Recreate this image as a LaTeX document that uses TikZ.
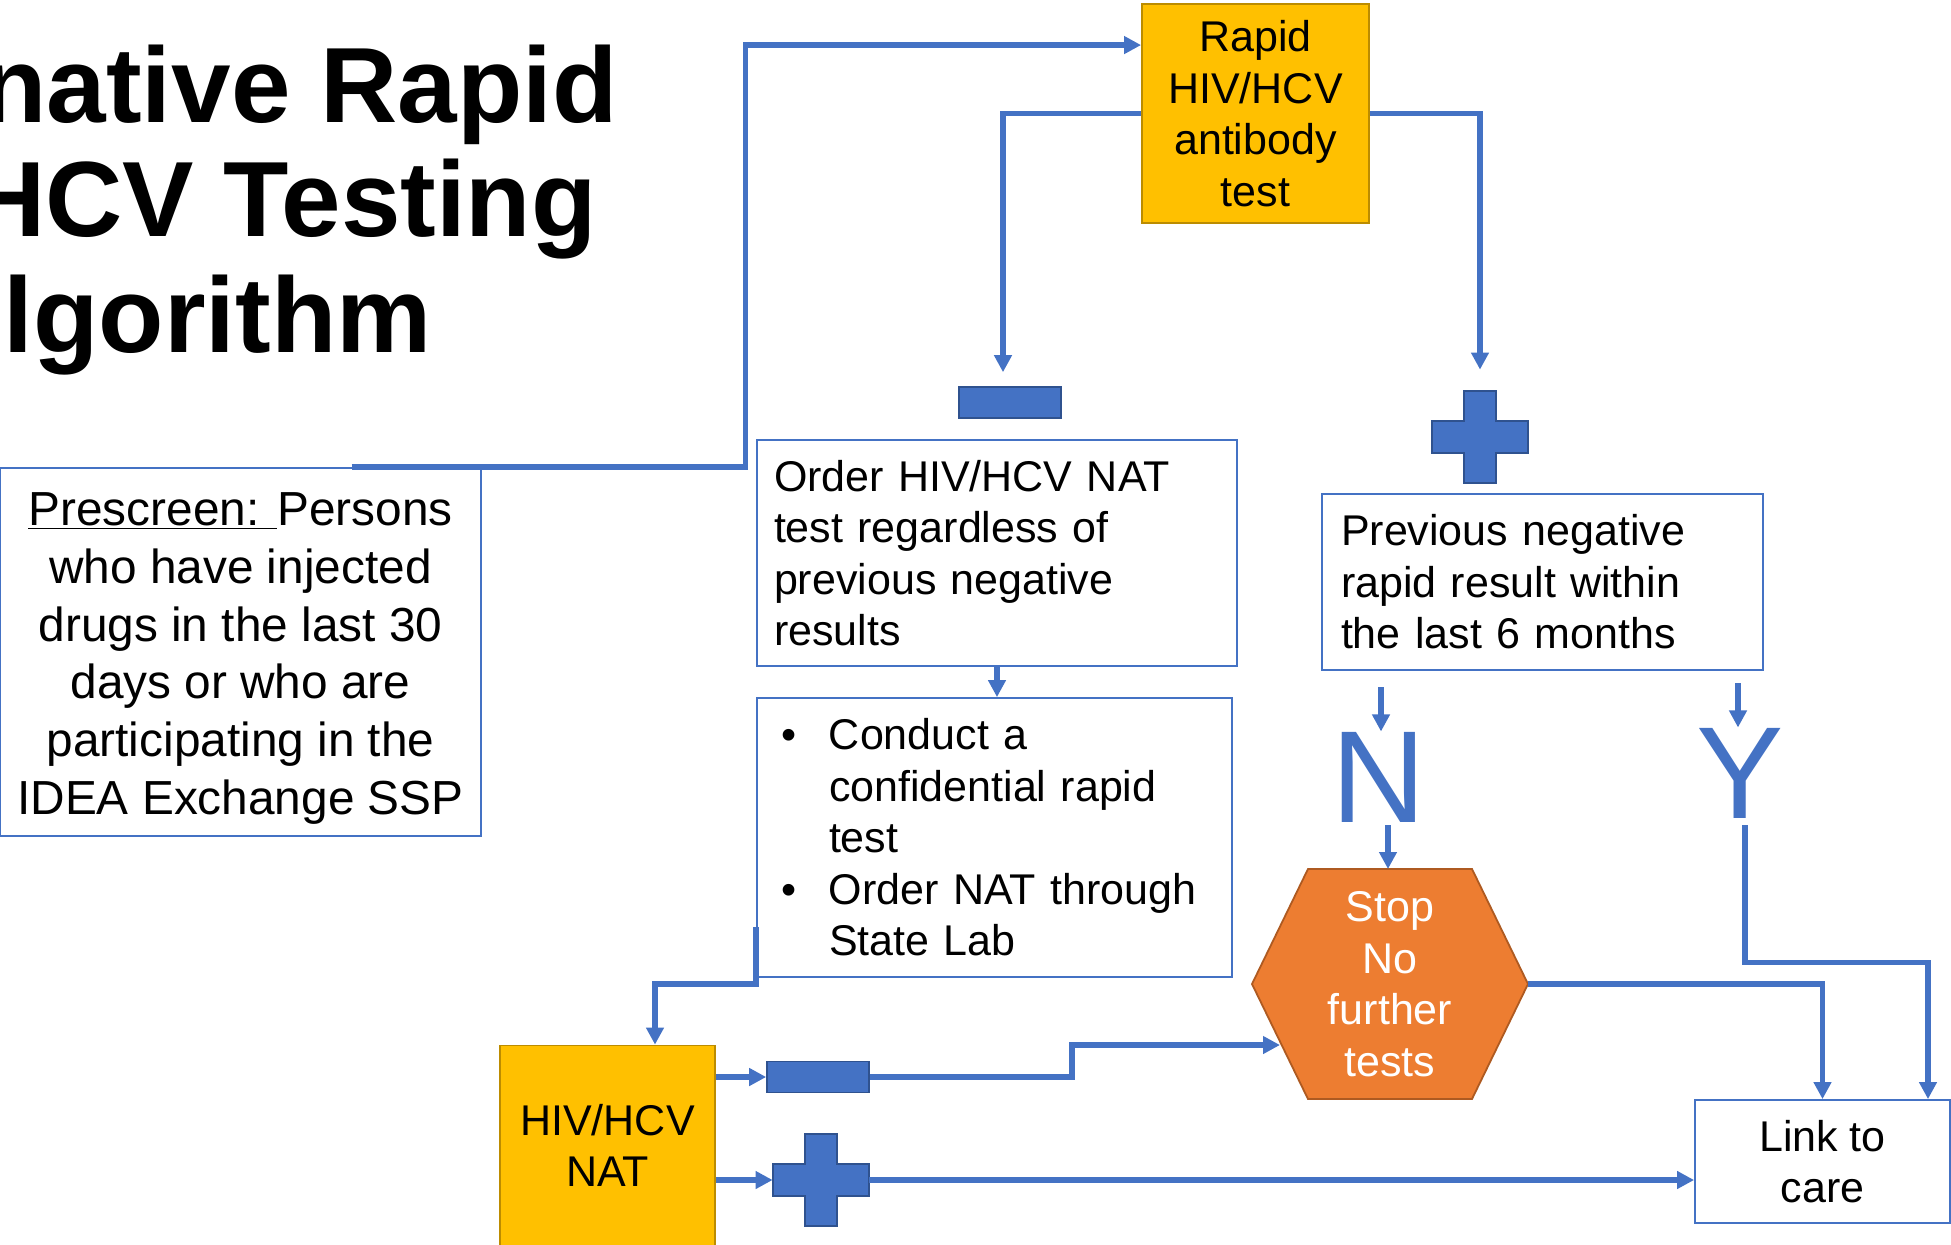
\documentclass[tikz,border=0pt]{standalone}
\usepackage{fontspec}
\setmainfont{Liberation Sans}
\usetikzlibrary{arrows.meta,calc}

\definecolor{lineblue}{HTML}{4472C4}
\definecolor{signedge}{HTML}{2F528F}
\definecolor{testgold}{HTML}{FFC000}
\definecolor{goldedge}{HTML}{BC8C00}
\definecolor{stoporange}{HTML}{ED7D31}
\definecolor{stopedge}{HTML}{AE5A21}

\tikzset{
  flow/.style={draw=lineblue, line width=2.9pt, -{Triangle[length=8.5pt,width=8.5pt]}},
  pointer/.style={draw=lineblue, line width=2.7pt, -{Triangle[length=8.5pt,width=8.5pt]}},
  textbox/.style={draw=lineblue, line width=0.9pt, fill=white, inner sep=0pt,
                  font=\fontsize{21.5}{25.75}\selectfont},
  testbox/.style={draw=goldedge, line width=0.9pt, fill=testgold, align=center,
                  inner sep=0pt, font=\fontsize{21.5}{25.75}\selectfont},
  minusbox/.style={draw=signedge, line width=0.8pt, fill=lineblue,
                   minimum width=51pt, minimum height=15.5pt, inner sep=0pt},
  plusbox/.style={minimum width=48pt, minimum height=46pt, inner sep=0pt},
  signmark/.style={draw=signedge, line width=0.8pt, fill=lineblue},
  bigletter/.style={text=lineblue, inner sep=0pt, anchor=base,
                    font=\fontsize{65.5}{70}\selectfont},
  heading/.style={inner sep=0pt, anchor=base east,
                  font=\bfseries\fontsize{53.5}{56}\selectfont},
}

% plus mark round a plusbox node
\newcommand{\plussign}[1]{%
  \draw[signmark] (#1.center) ++(-16,-46) -- ++(32,0) -- ++(0,30) -- ++(32,0)
    -- ++(0,32) -- ++(-32,0) -- ++(0,30) -- ++(-32,0) -- ++(0,-30)
    -- ++(-32,0) -- ++(0,-32) -- ++(32,0) -- cycle;}

\begin{document}
\begin{tikzpicture}[x=0.5pt, y=-0.5pt]
  \useasboundingbox (0,0) rectangle (1951,1244);
  \clip (0,0) rectangle (1951,1244);

  % title
  \node[heading] (title1) at (618,122) {native Rapid};
  \node[heading] (title2) at (597,236) {HCV Testing};
  \node[heading] (title3) at (432,352) {lgorithm};

  % boxes
  \node[textbox, align=center, minimum width=240.5pt, minimum height=184pt,
        font=\fontsize{23.9}{28.9}\selectfont] (prescreen) at (240.5,652)
    {\rule{0pt}{23pt}\underline{Prescreen: }Persons\\who have injected\\drugs in the last 30\\days or who are\\participating in the\\IDEA Exchange SSP};
  \node[testbox, minimum width=113.5pt, minimum height=109.5pt] (rapid) at (1255.5,113.5)
    {Rapid\\HIV/HCV\\antibody\\test};
  \node[minusbox] (neg1) at (1010,402.5) {};
  \node[plusbox] (pos1) at (1480,437) {};
  \plussign{pos1}
  \node[textbox, align=left, text width=223pt, inner xsep=8.5pt, minimum height=113pt]
    (order) at (997,553)
    {Order HIV/HCV NAT\\test regardless of\\previous negative\\results};
  \node[textbox, align=left, text width=213.5pt, inner xsep=12pt, minimum height=139.5pt]
    (conduct) at (994.5,837.5)
    {\makebox[24pt][l]{\textbullet}Conduct a\\
     \hspace*{24pt}confidential rapid\\
     \hspace*{24pt}test\\
     \makebox[24pt][l]{\textbullet}Order NAT through\\
     \hspace*{24pt}State Lab};
  \node[textbox, align=left, text width=201.5pt, inner xsep=9.5pt, minimum height=88pt]
    (prev) at (1542.5,582)
    {Previous negative\\rapid result within\\the last 6 months};
  \node[bigletter] (no) at (1378.5,822) {N};
  \node[bigletter] (yes) at (1740,818) {Y};

  \coordinate (hexc) at (1390,984);
  \draw[fill=stoporange, draw=stopedge, line width=0.9pt]
    (hexc) ++(-138,0) -- ++(56,-115) -- ++(164,0) -- ++(56,115)
    -- ++(-56,115) -- ++(-164,0) -- cycle;
  \node[align=center, text=white, inner sep=0pt,
        font=\fontsize{21.5}{25.75}\selectfont] (stop) at (hexc)
    {Stop\\No\\further\\tests};

  \node[testbox, minimum width=107.5pt, minimum height=100pt] (nat) at (607.5,1145.5)
    {HIV/HCV\\NAT};
  \node[minusbox] (neg2) at (818,1077) {};
  \node[plusbox] (pos2) at (821,1180) {};
  \plussign{pos2}
  \node[textbox, align=center, minimum width=127.5pt, minimum height=61.5pt]
    (link) at (1822.5,1161.5) {Link to\\care};

  % connectors
  \coordinate (pstart) at ($(prescreen.north west)!0.73!(prescreen.north east)$);
  \draw[flow] (pstart) -- ++(394,0) |- ($(rapid.north west)!0.19!(rapid.south west)$);
  \draw[flow] (rapid.west) -| ([xshift=-3.5pt,yshift=7pt]neg1.north);
  \draw[flow] (rapid.east) -| ([yshift=10.5pt]pos1.north);
  \draw[flow] (order.south) -- (order.south |- conduct.north);
  \draw[flow] ($(conduct.south west)!0.18!(conduct.north west)$) -- ++(0,57)
    -| ([xshift=23.75pt]nat.north);
  \draw[flow] (nat.east |- neg2.west) -- (neg2.west);
  \draw[flow] (neg2.east) -- ++(202,0) |- ($(hexc)+(-110,61)$);
  \draw[flow] (nat.east |- pos2.west) -- (pos2.west);
  \draw[flow] (pos2.east) -- (pos2.east -| link.west);

  \coordinate (nabove) at (1381,687);
  \coordinate (yabove) at (1738,683);
  \draw[pointer] (nabove) -- (nabove |- no.north);
  \draw[pointer] ([xshift=4.75pt,yshift=-1.5pt]no.south) -- ($(hexc)+(-2,-115)$);
  \draw[pointer] (yabove) -- (yabove |- yes.north);
  \draw[flow] ([xshift=2.5pt,yshift=-3.5pt]yes.south) -- ++(0,137)
    -| ([xshift=52.75pt]link.north);
  \draw[flow] ($(hexc)+(138,0)$) -| (link.north);
\end{tikzpicture}
\end{document}
